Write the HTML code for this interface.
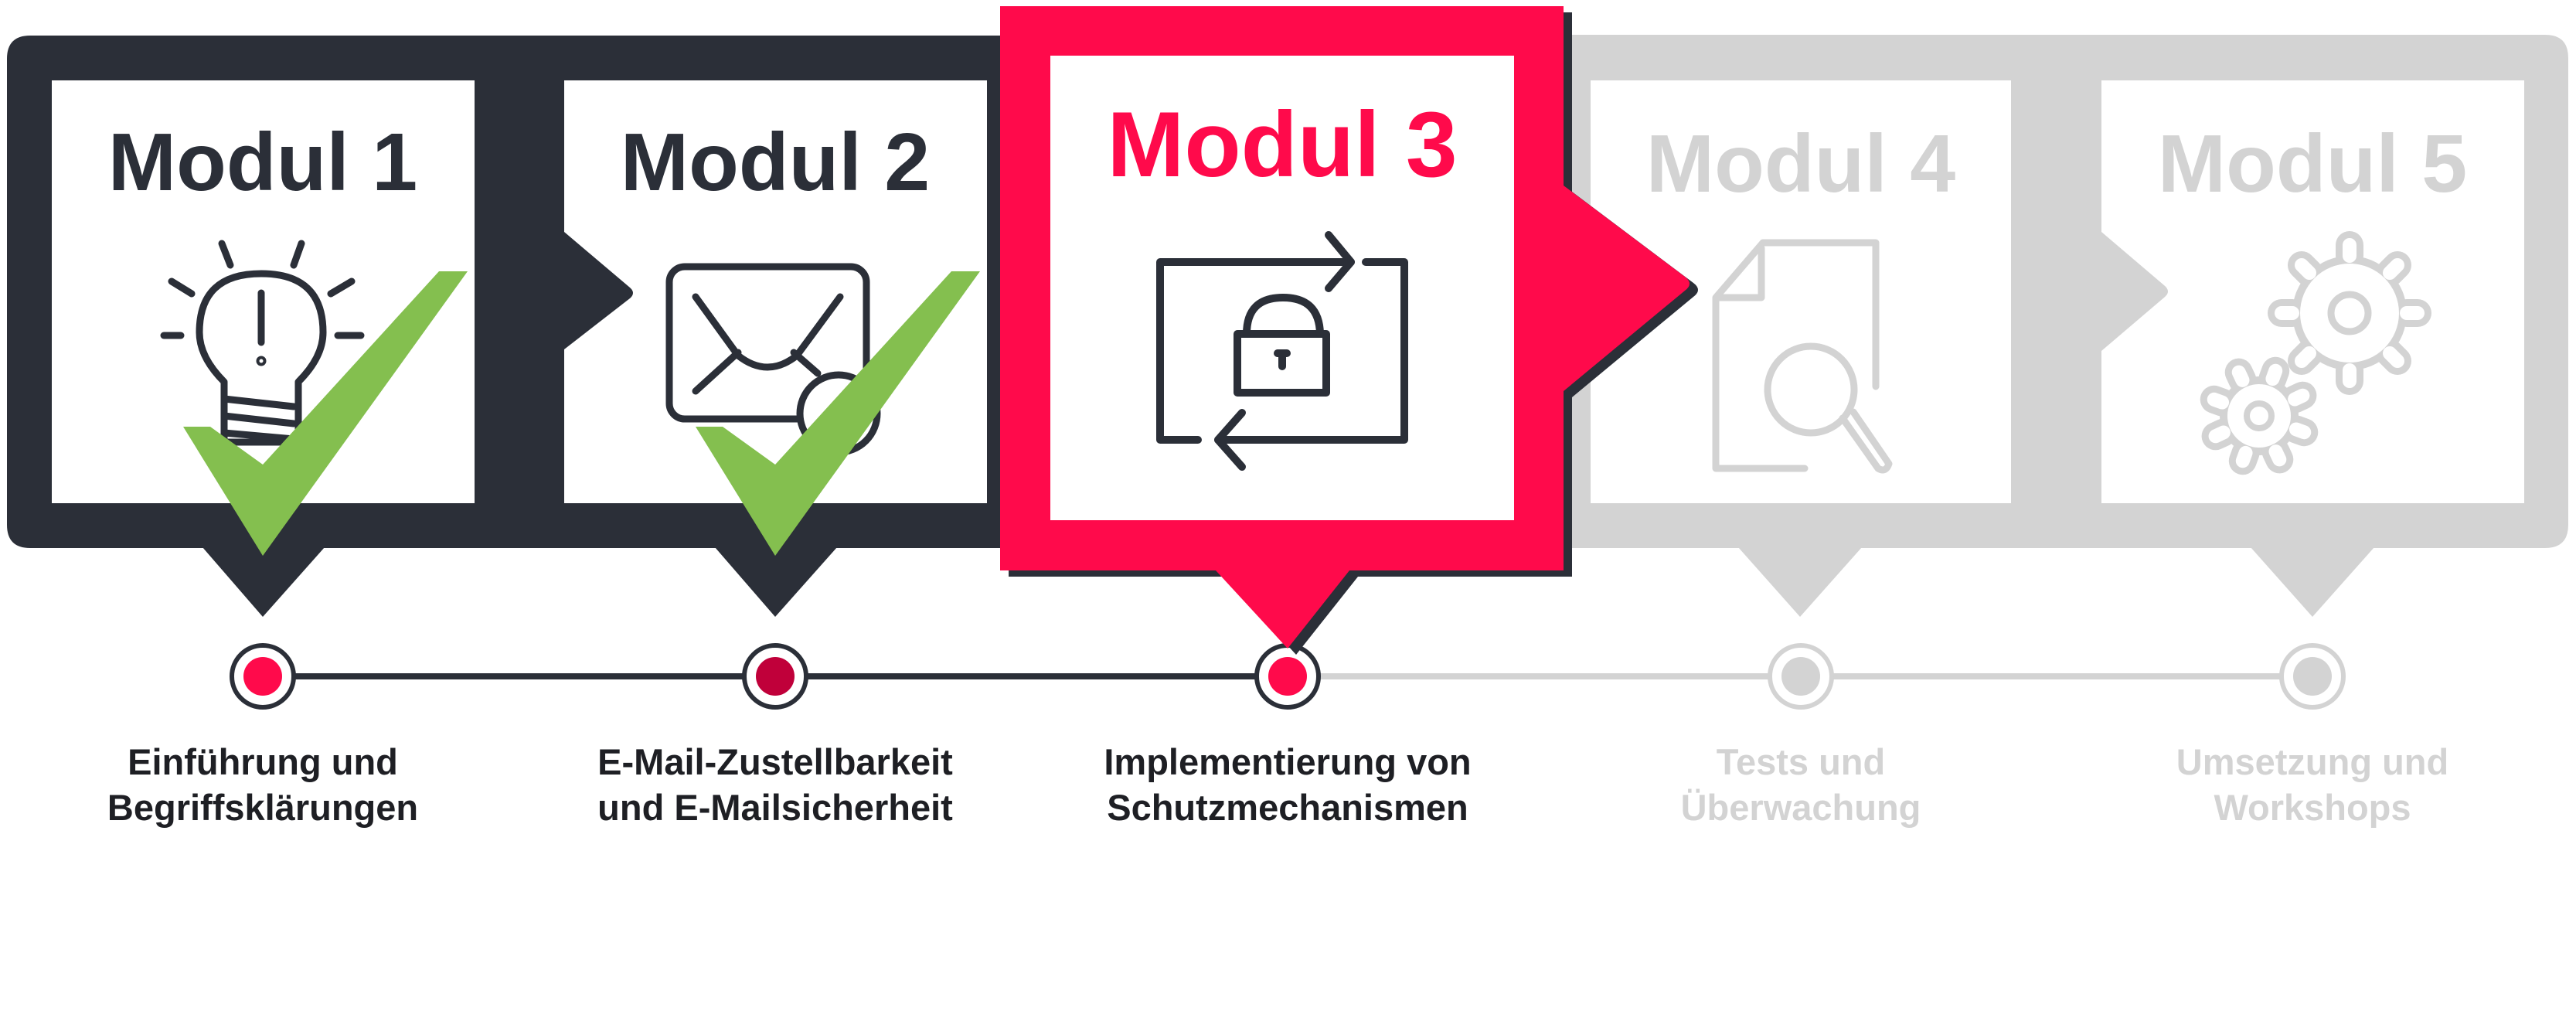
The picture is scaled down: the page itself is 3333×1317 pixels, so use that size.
<!DOCTYPE html>
<html><head><meta charset="utf-8"><style>
html,body{margin:0;padding:0;background:#fff}
svg{display:block}
text{font-family:"Liberation Sans",sans-serif;font-weight:bold;text-anchor:middle}
</style></head><body>
<svg width="3333" height="1317" viewBox="0 0 3333 1317" xmlns="http://www.w3.org/2000/svg">
<!-- gray band -->
<path d="M2030 45 H3293 Q3323 45 3323 75 V679 Q3323 709 3293 709 H2030 Z" fill="#d3d3d3"/>
<polygon points="2249,708 2409,708 2329,798" fill="#d3d3d3"/>
<polygon points="2912,708 3072,708 2992,798" fill="#d3d3d3"/>
<!-- module4/5 white boxes -->
<rect x="2058" y="104" width="544" height="547" fill="#fff"/>
<path d="M2719 104 H3266 V651 H2719 V454 L2800 385 Q2810 377 2800 369 L2719 300 Z" fill="#fff"/>
<!-- dark band -->
<path d="M39 46 H1300 V709 H39 Q9 709 9 679 V76 Q9 46 39 46 Z" fill="#2b2f38"/>
<polygon points="262,708 420,708 340,798" fill="#2b2f38"/>
<polygon points="925,708 1083,708 1003,798" fill="#2b2f38"/>
<rect x="67" y="104" width="547" height="547" fill="#fff"/>
<path d="M730 104 H1277 V651 H730 V452 L815 386 Q823 379 815 372 L730 300 Z" fill="#fff"/>
<!-- timeline -->
<line x1="1666" y1="875" x2="2992" y2="875" stroke="#d3d3d3" stroke-width="8"/>
<line x1="340" y1="875" x2="1666" y2="875" stroke="#2b2f38" stroke-width="8"/>
<g stroke-width="6">
<circle cx="340" cy="875" r="40" fill="#fff" stroke="#2b2f38"/><circle cx="340" cy="875" r="25" fill="#ff0a4b"/>
<circle cx="1003" cy="875" r="40" fill="#fff" stroke="#2b2f38"/><circle cx="1003" cy="875" r="25" fill="#c0003a"/>
<circle cx="1666" cy="875" r="40" fill="#fff" stroke="#2b2f38"/><circle cx="1666" cy="875" r="25" fill="#ff0a4b"/>
<circle cx="2330" cy="875" r="40" fill="#fff" stroke="#d3d3d3"/><circle cx="2330" cy="875" r="25" fill="#d3d3d3"/>
<circle cx="2992" cy="875" r="40" fill="#fff" stroke="#d3d3d3"/><circle cx="2992" cy="875" r="25" fill="#d3d3d3"/>
</g>
<!-- red module 3 with shadow -->
<path transform="translate(11,8)" d="M1294 8 H2023 V240 L2180 358 Q2192 367 2180 376 L2023 506 V738 H1746 L1666 839 L1573 738 H1294 Z" fill="#2b2f38"/>
<path d="M1294 8 H2023 V240 L2180 358 Q2192 367 2180 376 L2023 506 V738 H1746 L1666 839 L1573 738 H1294 Z" fill="#ff0a4b"/>
<rect x="1359" y="72" width="600" height="601" fill="#fff"/>
<!-- titles -->
<text x="340" y="246" font-size="106" fill="#2b2f38">Modul 1</text>
<text x="1003" y="246" font-size="106" fill="#2b2f38">Modul 2</text>
<text x="1659" y="228" font-size="120" fill="#ff0a4b">Modul 3</text>
<text x="2330" y="248" font-size="106" fill="#d3d3d3">Modul 4</text>
<text x="2992" y="248" font-size="106" fill="#d3d3d3">Modul 5</text>
<!-- bulb icon -->
<g fill="none" stroke="#2b2f38" stroke-width="9" stroke-linecap="round" stroke-linejoin="round">
<path d="M290 494 Q258 462 258 430 Q258 354 338 354 Q418 354 418 430 Q418 462 386 494 V572 H290 Z"/>
<line x1="290" y1="516" x2="380" y2="526"/><line x1="290" y1="538" x2="380" y2="548"/><line x1="290" y1="560" x2="380" y2="568"/>
<line x1="338" y1="379" x2="338" y2="443"/><circle cx="338" cy="467" r="2"/>
<line x1="287" y1="315" x2="298" y2="343"/><line x1="390" y1="315" x2="380" y2="343"/>
<line x1="222" y1="364" x2="248" y2="380"/><line x1="455" y1="364" x2="428" y2="380"/>
<line x1="212" y1="434" x2="234" y2="434"/><line x1="437" y1="434" x2="467" y2="434"/>
</g>
<!-- envelope icon -->
<g fill="none" stroke="#2b2f38" stroke-width="9" stroke-linecap="round" stroke-linejoin="round">
<rect x="866" y="345" width="255" height="197" rx="20"/>
<path d="M900 384 L955 460 Q993 490 1031 460 L1087 384"/>
<line x1="900" y1="506" x2="955" y2="456"/><line x1="1027" y1="456" x2="1058" y2="483"/>
<circle cx="1085" cy="535" r="50" fill="#fff"/>
</g>
<!-- checks -->
<polygon points="237,552 272,552 340,601 568,351 605,351 340,719" fill="#84bf4f"/>
<polygon points="900,552 935,552 1003,601 1231,351 1268,351 1003,719" fill="#84bf4f"/>
<!-- lock icon -->
<g fill="none" stroke="#2b2f38" stroke-width="10" stroke-linecap="round" stroke-linejoin="round">
<path d="M1748 339 H1501 V569 H1550"/><path d="M1767 339 H1817 V569 H1576"/>
<path d="M1719 304 L1748 339 L1719 373"/><path d="M1607 534 L1576 569 L1607 604"/>
<rect x="1601" y="432" width="115" height="76"/>
<path d="M1613 432 Q1613 385 1660 385 Q1707 385 1708 432"/>
<line x1="1659" y1="457" x2="1659" y2="474"/><line x1="1653" y1="457" x2="1665" y2="457"/>
</g>
<!-- doc search icon -->
<g fill="none" stroke="#d3d3d3" stroke-width="9" stroke-linecap="round" stroke-linejoin="round">
<path d="M2427 500 V314 H2281 L2220 385 V606 H2335"/>
<path d="M2279 321 V385 H2224"/>
<circle cx="2343" cy="504" r="56"/>
<path d="M2384 541 L2430 606 Q2440 612 2444 600 L2398 533"/>
</g>
<!-- gears -->
<g>
<g stroke="#d3d3d3" stroke-linecap="round" stroke-width="36" fill="#d3d3d3">
<circle cx="3040" cy="405" r="74" stroke="none"/>
<path d="M3040 331 V317 M3040 479 V493 M2966 405 H2952 M3114 405 H3128 M2988 353 L2978 343 M3092 353 L3102 343 M2988 457 L2978 467 M3092 457 L3102 467"/>
<circle cx="2923" cy="538" r="51" stroke="none"/>
<g transform="rotate(20 2923 538)"><path d="M2923 487 V476 M2923 589 V600 M2872 538 H2861 M2974 538 H2985 M2887 502 L2879 494 M2959 502 L2967 494 M2887 574 L2879 582 M2959 574 L2967 582"/></g>
</g>
<g stroke="#fff" stroke-linecap="round" stroke-width="18" fill="#fff">
<circle cx="3040" cy="405" r="64" stroke="none"/>
<path d="M3040 331 V317 M3040 479 V493 M2966 405 H2952 M3114 405 H3128 M2988 353 L2978 343 M3092 353 L3102 343 M2988 457 L2978 467 M3092 457 L3102 467"/>
<circle cx="2923" cy="538" r="41" stroke="none"/>
<g transform="rotate(20 2923 538)"><path d="M2923 487 V476 M2923 589 V600 M2872 538 H2861 M2974 538 H2985 M2887 502 L2879 494 M2959 502 L2967 494 M2887 574 L2879 582 M2959 574 L2967 582"/></g>
</g>
<circle cx="3040" cy="405" r="24" fill="none" stroke="#d3d3d3" stroke-width="9"/>
<circle cx="2923" cy="538" r="16" fill="none" stroke="#d3d3d3" stroke-width="8"/>
</g>
<!-- labels -->
<g font-size="47" fill="#1e1f24">
<text x="340" y="1002">Einführung und</text><text x="340" y="1061">Begriffsklärungen</text>
<text x="1003" y="1002">E-Mail-Zustellbarkeit</text><text x="1003" y="1061">und E-Mailsicherheit</text>
<text x="1666" y="1002">Implementierung von</text><text x="1666" y="1061">Schutzmechanismen</text>
</g>
<g font-size="47" fill="#d3d3d3">
<text x="2330" y="1002">Tests und</text><text x="2330" y="1061">Überwachung</text>
<text x="2992" y="1002">Umsetzung und</text><text x="2992" y="1061">Workshops</text>
</g>
</svg>
</body></html>
